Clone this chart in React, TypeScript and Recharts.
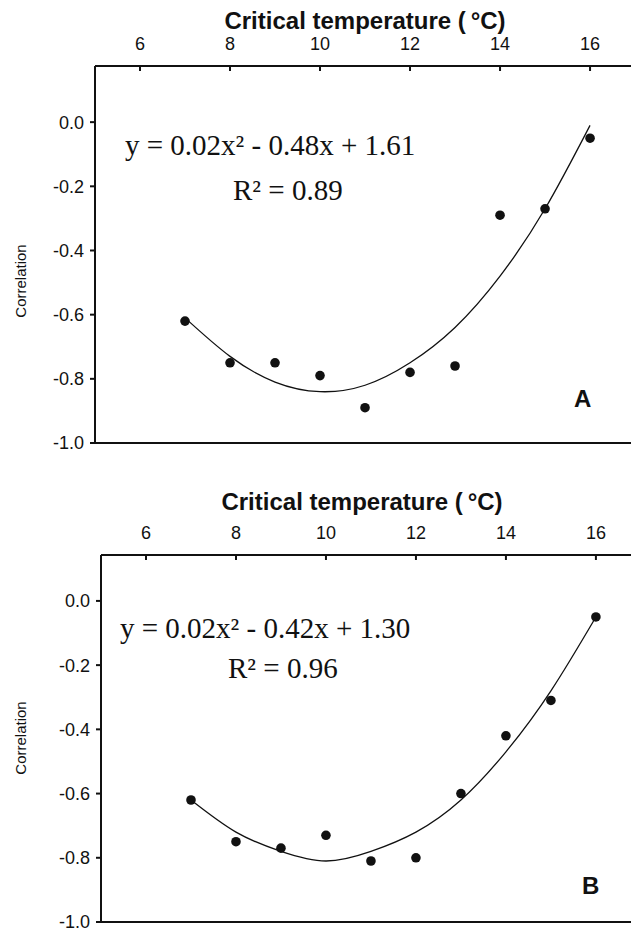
import React from "react";
import { ComposedChart, Line, Scatter, XAxis, YAxis } from "recharts";

// critical temperature (°C) for each point
const temps = [7, 8, 9, 10, 11, 12, 13, 14, 15, 16];

// panel A
const corrA = [-0.62, -0.75, -0.75, -0.79, -0.89, -0.78, -0.76, -0.29, -0.27, -0.05];
const fitA = [-0.61, -0.73, -0.81, -0.84, -0.82, -0.75, -0.64, -0.48, -0.27, -0.01];

// panel B
const corrB = [-0.62, -0.75, -0.77, -0.73, -0.81, -0.8, -0.6, -0.42, -0.31, -0.05];
const fitB = [-0.62, -0.72, -0.78, -0.81, -0.78, -0.72, -0.62, -0.47, -0.28, -0.05];

const xTicks = [6, 8, 10, 12, 14, 16];
const yTicks = [-1, -0.8, -0.6, -0.4, -0.2, 0];

const SANS = "'Liberation Sans', Arial, sans-serif";
const SERIF = "'Liberation Serif', 'Times New Roman', serif";
const INK = "#111";

const TopTick = (p: any) => {
    const { x, y, payload } = p;
    return (
        <g>
            <line x1={x} x2={x} y1={y + 16} y2={y + 21} stroke={INK} strokeWidth={2} />
            <text x={x} y={y} textAnchor="middle" fontFamily={SANS} fontSize={18} fill={INK}>
                {payload.value}
            </text>
        </g>
    );
};

interface PanelProps {
    top: number;
    height: number;
    axisLeft: number;
    plotTop: number;
    bottomH: number;
    xMax: number;
    yMax: number;
    corr: number[];
    fit: number[];
    eq: string;
    r2: string;
    eqX: number;
    eqY: number;
    r2X: number;
    r2Y: number;
    tag: string;
    tagX: number;
    tagY: number;
    titleX: number;
    titleY: number;
    ylabY: number;
}

function Panel(props: PanelProps) {
    const rows = temps.map((t, i) => ({ t, obs: props.corr[i], fit: props.fit[i] }));
    const abs = (x: number, y: number): React.CSSProperties => ({
        position: "absolute",
        left: x,
        top: y,
        lineHeight: 1,
        whiteSpace: "nowrap",
        color: INK,
    });
    return (
        <div style={{ position: "absolute", left: 0, top: props.top, width: 631, height: props.height }}>
            <ComposedChart
                width={631}
                height={props.height}
                data={rows}
                margin={{ top: 0, right: 0, bottom: 0, left: 0 }}
            >
                <XAxis
                    xAxisId="top"
                    orientation="top"
                    dataKey="t"
                    type="number"
                    domain={[5, props.xMax]}
                    ticks={xTicks}
                    interval={0}
                    allowDataOverflow
                    height={props.plotTop}
                    axisLine={{ stroke: INK, strokeWidth: 2 }}
                    tickLine={false}
                    tickSize={0}
                    tickMargin={16}
                    tick={(p: any) => <TopTick {...p} />}
                />
                <XAxis
                    xAxisId="bottom"
                    orientation="bottom"
                    dataKey="t"
                    type="number"
                    domain={[5, props.xMax]}
                    allowDataOverflow
                    height={props.bottomH}
                    axisLine={{ stroke: INK, strokeWidth: 2 }}
                    tickLine={false}
                    tick={false}
                />
                <YAxis
                    type="number"
                    domain={[-1, props.yMax]}
                    ticks={yTicks}
                    interval={0}
                    allowDataOverflow
                    width={props.axisLeft}
                    axisLine={{ stroke: INK, strokeWidth: 2 }}
                    tickLine={{ stroke: INK, strokeWidth: 2 }}
                    tickSize={5}
                    tickMargin={6}
                    tickFormatter={(v: number) => v.toFixed(1)}
                    tick={{ fill: INK, fontSize: 18, fontFamily: SANS }}
                />
                <Line
                    xAxisId="top"
                    dataKey="fit"
                    type="natural"
                    stroke={INK}
                    strokeWidth={1.3}
                    dot={false}
                    isAnimationActive={false}
                />
                <Scatter
                    xAxisId="top"
                    dataKey="obs"
                    fill={INK}
                    isAnimationActive={false}
                    shape={(p: any) => <circle cx={p.cx} cy={p.cy} r={4.8} fill={INK} />}
                />
            </ComposedChart>

            <div
                style={{
                    ...abs(props.titleX, props.titleY),
                    transform: "translateX(-50%)",
                    fontFamily: SANS,
                    fontWeight: "bold",
                    fontSize: 24,
                }}
            >
                Critical temperature (&thinsp;°C)
            </div>
            <div
                style={{
                    ...abs(20, props.ylabY),
                    transform: "translate(-50%, -50%) rotate(-90deg)",
                    fontFamily: SANS,
                    fontSize: 15,
                }}
            >
                Correlation
            </div>
            <div style={{ ...abs(props.eqX, props.eqY), fontFamily: SERIF, fontSize: 29 }}>{props.eq}</div>
            <div style={{ ...abs(props.r2X, props.r2Y), fontFamily: SERIF, fontSize: 29 }}>{props.r2}</div>
            <div style={{ ...abs(props.tagX, props.tagY), fontFamily: SANS, fontWeight: "bold", fontSize: 24 }}>
                {props.tag}
            </div>
        </div>
    );
}

export default function App() {
    return (
        <div
            style={{
                position: "absolute",
                left: 0,
                top: 0,
                width: 631,
                height: 931,
                overflow: "hidden",
                background: "#fff",
            }}
        >
            <Panel
                top={0}
                height={460}
                axisLeft={95}
                plotTop={66}
                bottomH={17}
                xMax={16.91}
                yMax={0.175}
                corr={corrA}
                fit={fitA}
                eq="y = 0.02x² - 0.48x + 1.61"
                r2="R² = 0.89"
                eqX={125}
                eqY={131}
                r2X={233}
                r2Y={176}
                tag="A"
                tagX={574}
                tagY={387}
                titleX={365}
                titleY={9}
                ylabY={281}
            />
            <Panel
                top={478}
                height={453}
                axisLeft={101}
                plotTop={77}
                bottomH={9}
                xMax={16.78}
                yMax={0.143}
                corr={corrB}
                fit={fitB}
                eq="y = 0.02x² - 0.42x + 1.30"
                r2="R² = 0.96"
                eqX={120}
                eqY={136}
                r2X={228}
                r2Y={176}
                tag="B"
                tagX={582}
                tagY={396}
                titleX={362}
                titleY={12}
                ylabY={260}
            />
        </div>
    );
}
